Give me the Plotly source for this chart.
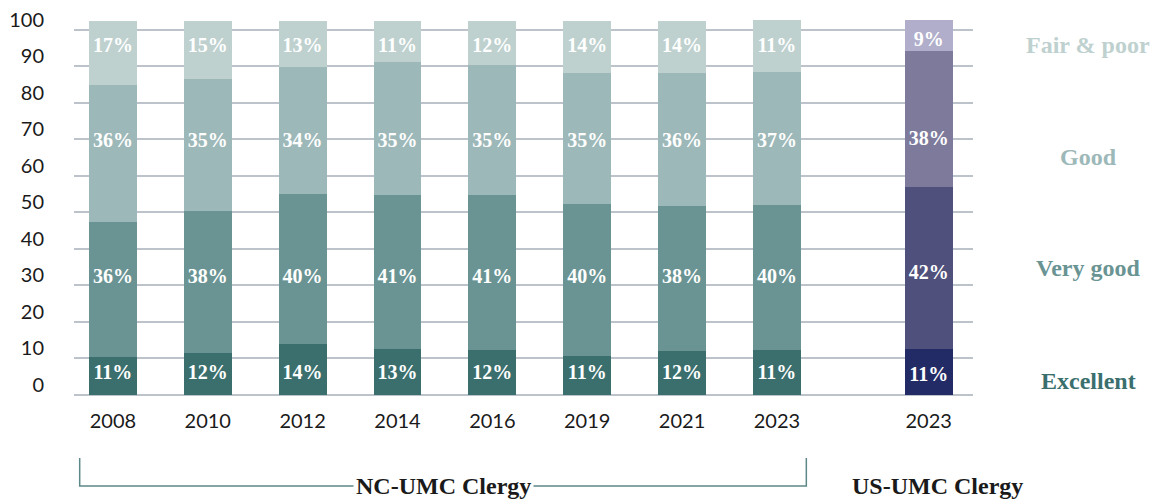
import plotly.graph_objects as go

# ---------------- data ----------------
years = ["2008", "2010", "2012", "2014", "2016", "2019", "2021", "2023", "2023"]
groups = ["NC", "NC", "NC", "NC", "NC", "NC", "NC", "NC", "US"]

# segment heights as drawn (axis units)
excellent = [10.4, 11.6, 14.0, 12.6, 12.3, 10.7, 12.1, 12.3, 12.6]
very_good = [37.0, 38.7, 41.1, 42.2, 42.5, 41.6, 39.7, 39.8, 44.4]
good = [37.5, 36.3, 34.8, 36.4, 35.6, 35.9, 36.4, 36.4, 37.2]
fair_poor = [17.6, 15.9, 12.6, 11.3, 12.1, 14.3, 14.3, 14.2, 8.5]

# printed percentage labels
excellent_lbl = [11, 12, 14, 13, 12, 11, 12, 11, 11]
very_good_lbl = [36, 38, 40, 41, 41, 40, 38, 40, 42]
good_lbl = [36, 35, 34, 35, 35, 35, 36, 37, 38]
fair_poor_lbl = [17, 15, 13, 11, 12, 14, 14, 11, 9]

y_ticks = [0, 10, 20, 30, 40, 50, 60, 70, 80, 90, 100]
categories = ["Excellent", "Very good", "Good", "Fair & poor"]

# ---------------- styling ----------------
NC_COLORS = {"Excellent": "#3b6f6e", "Very good": "#6a9493", "Good": "#9db8b8", "Fair & poor": "#bed1cf"}
US_COLORS = {"Excellent": "#222b66", "Very good": "#4f507b", "Good": "#7d7a9b", "Fair & poor": "#b0aeca"}
LABEL_ROW = {"NC": {"Excellent": 5.8, "Very good": 32.1, "Good": 69.3, "Fair & poor": 95.3},
             "US": {"Excellent": 5.3, "Very good": 33.2, "Good": 69.9, "Fair & poor": 97.0}}
US_GAP = 1.6
SERIF = "Liberation Serif"
SANS = "Lato"

# x positions: consecutive slots, with a wider gap before the US bar
xpos = []
p = 0.0
for i, g in enumerate(groups):
    if i > 0:
        p += US_GAP if g != groups[i - 1] else 1.0
    xpos.append(p)

series = {"Excellent": (excellent, excellent_lbl),
          "Very good": (very_good, very_good_lbl),
          "Good": (good, good_lbl),
          "Fair & poor": (fair_poor, fair_poor_lbl)}

fig = go.Figure()
for cat in categories:
    vals, _ = series[cat]
    colors = [NC_COLORS[cat] if g == "NC" else US_COLORS[cat] for g in groups]
    fig.add_trace(go.Bar(x=xpos, y=vals, marker=dict(color=colors, line=dict(width=0)),
                         width=0.505, name=cat, showlegend=False, hoverinfo="skip"))

# value labels on fixed rows
for cat in categories:
    _, lbls = series[cat]
    fig.add_trace(go.Scatter(
        x=xpos, y=[LABEL_ROW[g][cat] for g in groups], mode="text",
        text=[f"{v}%" for v in lbls],
        textfont=dict(family=SERIF, size=20, color="white", weight="bold"),
        showlegend=False, hoverinfo="skip"))

fig.update_layout(
    barmode="stack",
    width=1164, height=500,
    margin=dict(l=74, r=191, t=13, b=96),
    plot_bgcolor="white", paper_bgcolor="white",
    bargap=0,
)
fig.update_xaxes(range=[-0.41, 9.067], tickvals=xpos, ticktext=years,
                 showgrid=False, zeroline=False, showline=False, ticks="",
                 tickfont=dict(family=SANS, size=20, color="#1a1a1a"),
                 ticklabelstandoff=3, automargin=False)
fig.update_yaxes(range=[-2.5, 104.62], tickvals=y_ticks, ticktext=[str(v) for v in y_ticks],
                 showgrid=True, gridcolor="#bcc3cb", gridwidth=2, zeroline=False,
                 showline=False, ticks="",
                 tickfont=dict(family=SANS, size=20, color="#1a1a1a"),
                 ticklabelshift=-10, ticklabelstandoff=29, automargin=False)

# right-side category labels
right_rows = {"Fair & poor": 95.9, "Good": 65.2, "Very good": 34.8, "Excellent": 3.8}
for cat in categories:
    fig.add_annotation(x=1.128, xref="paper", y=right_rows[cat], yref="y",
                       text=cat, showarrow=False, xanchor="center", yanchor="middle",
                       font=dict(family=SERIF, size=24, color=NC_COLORS[cat], weight="bold"))

# group bracket and group labels
nc_idx = [i for i, g in enumerate(groups) if g == "NC"]
us_idx = [i for i, g in enumerate(groups) if g == "US"]
x0 = xpos[nc_idx[0]] - 0.35
x1 = xpos[nc_idx[-1]] + 0.31
fig.add_shape(type="path", xref="x", yref="paper",
              path=f"M {x0},-0.138 L {x0},-0.2097 L {x1},-0.2097 L {x1},-0.138",
              line=dict(color="#5d8888", width=1.5))
nc_mid = (x0 + x1) / 2
fig.add_annotation(x=nc_mid, xref="x", y=-0.2097, yref="paper", text="NC-UMC Clergy",
                   showarrow=False, xanchor="center", yanchor="middle", bgcolor="white",
                   borderpad=2,
                   font=dict(family=SERIF, size=24, color="#1a1a1a", weight="bold"))
fig.add_annotation(x=xpos[us_idx[0]] + 0.09, xref="x", y=-0.2097, yref="paper", text="US-UMC Clergy",
                   showarrow=False, xanchor="center", yanchor="middle",
                   font=dict(family=SERIF, size=24, color="#1a1a1a", weight="bold"))

fig.write_html("out.html", config={"displayModeBar": False},
               post_script="document.body.style.margin='0';")
